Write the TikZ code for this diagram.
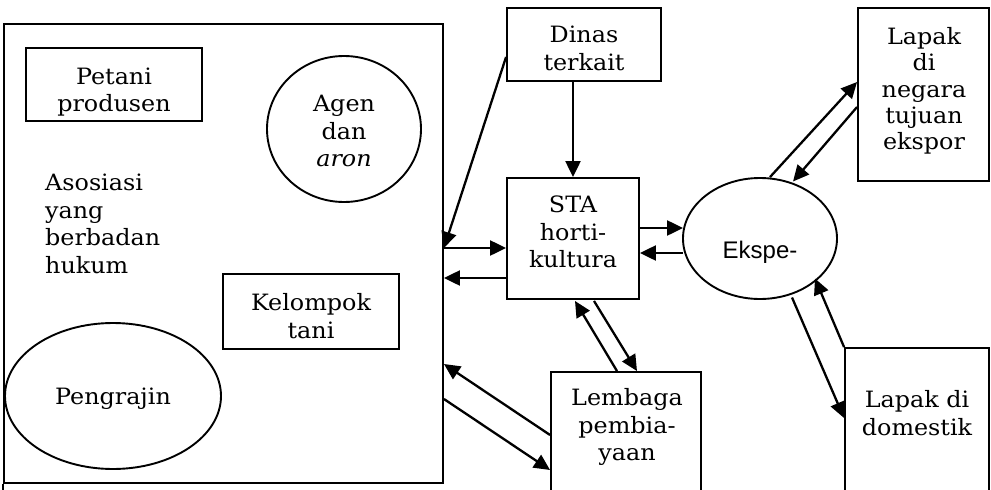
\documentclass[tikz,border=0pt]{standalone}
\usepackage{fontspec}
\setmainfont{DejaVu Serif}[FakeStretch=1.06]
\newfontfamily\labelsans{Liberation Sans}
\usetikzlibrary{arrows.meta,calc,shapes.geometric}

\tikzset{
  frame/.style={draw, line width=1.9pt, inner sep=0pt},
  box/.style={frame, rectangle},
  oval/.style={frame, ellipse},
  lbl/.style={font=\fontsize{22.5}{27.5}\selectfont, align=center, inner sep=0pt},
  flow/.style={line width=2.3pt, -{Triangle[length=16pt,width=15pt]}},
}

\begin{document}
\begin{tikzpicture}[x=1pt, y=-1pt]
\clip (0,0) rectangle (991,490);
\fill[white] (0,0) rectangle (991,490);

% association frame with its members
\node[box, minimum width=439, minimum height=459] (asoc) at (223.5,253.5) {};
\draw[line width=1.9pt] (asoc.south west) -- ++(0,10);
\node[box, minimum width=176, minimum height=73] (petani) at (114,84.5) {};
\node[lbl] (petanit) at (114,92) {Petani\\produsen};
\node[oval, minimum width=154, minimum height=146] (agen) at (344,129) {};
\node[lbl] (agent) at (344,131) {Agen\\dan\\\textit{aron}};
\node[lbl, align=left, anchor=west] (asoct) at (45,224) {Asosiasi\\yang\\berbadan\\hukum};
\node[box, minimum width=176, minimum height=75] (kelompok) at (311,311.5) {};
\node[lbl] (kelompokt) at (311,316) {Kelompok\\tani};
\node[oval, minimum width=216, minimum height=146] (pengrajin) at (113,396) {};
\node[lbl] (pengrajint) at (113,398.7) {Pengrajin};

% partners
\node[box, minimum width=154, minimum height=73] (dinas) at (584,44.5) {};
\node[lbl] (dinast) at (584,48.5) {Dinas\\terkait};
\node[box, minimum width=132, minimum height=121] (sta) at (573,238.5) {};
\node[lbl] (stat) at (573,232) {STA\\horti-\\kultura};
\node[oval, minimum width=154, minimum height=121] (ekspe) at (760,238.5) {};
\node[inner sep=0pt, font=\labelsans\fontsize{24}{28}\selectfont] (ekspet) at (760,252) {Ekspe-};
\node[box, minimum width=131, minimum height=173] (lapakx) at (923.5,94.5) {};
\node[lbl, font=\fontsize{22.5}{26.3}\selectfont] (lapakxt) at (924,91) {Lapak\\di\\negara\\tujuan\\ekspor};
\node[box, minimum width=144, minimum height=152] (lapakd) at (917,424) {};
\node[lbl] (lapakdt) at (917,413) {Lapak di\\domestik};
\node[box, minimum width=150, minimum height=128] (lemb) at (626,436) {};
\node[lbl] (lembt) at (627,427) {Lembaga\\pembia-\\yaan};

% flows
\draw[flow] (sta.north |- dinas.south) -- (sta.north);
\draw[flow] ($(dinas.west)+(0,12.5)$) -- ($(asoc.east)+(0,-5.5)$);
\draw[flow] ($(asoc.east)+(0,-5.5)$) -- ($(sta.west)+(0,9.5)$);
\draw[flow] ($(sta.west)+(0,39.5)$) -- ($(asoc.east)+(0,24.5)$);
\draw[flow] ($(sta.east)+(0,-10.5)$) -- ($(ekspe.west)+(1,-10.5)$);
\draw[flow] ($(ekspe.west)+(1,14.5)$) -- ($(sta.east)+(0,14.5)$);
\draw[flow] ($(ekspe.north)+(10,0)$) -- ($(lapakx.west)+(0,-12.5)$);
\draw[flow] ($(lapakx.west)+(0,12.5)$) -- ($(ekspe.center)+(33,-57)$);
\draw[flow] ($(ekspe.center)+(32,59)$) -- ($(lapakd.west)+(0,-6)$);
\draw[flow] (lapakd.north west) -- ($(ekspe.center)+(55,40)$);
\draw[flow] ($(lemb.north)+(-9,0)$) -- ($(sta.south)+(2,1)$);
\draw[flow] ($(sta.south)+(21,1)$) -- ($(lemb.north)+(11,0)$);
\draw[flow] ($(lemb.west)+(0,-1)$) -- ($(asoc.east)+(0,110.5)$);
\draw[flow] ($(asoc.east)+(0,145.5)$) -- ($(lemb.west)+(0,34)$);
\end{tikzpicture}
\end{document}
